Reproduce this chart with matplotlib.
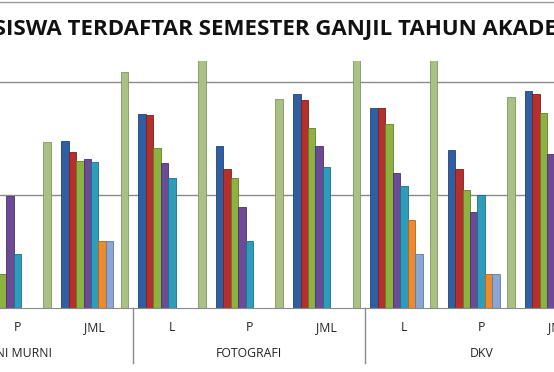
import numpy as np
import matplotlib
matplotlib.use("Agg")
import matplotlib.pyplot as plt
from matplotlib.transforms import blended_transform_factory
from matplotlib.lines import Line2D

# visible categories, left to right (SENI MURNI L is outside the crop)
groups = ["SENI MURNI", "FOTOGRAFI", "DKV"]
categories = ["P", "JML", "L", "P", "JML", "L", "P", "JML"]

# series values per category (gridlines every 20)
s_blue = [12.0, 29.5, 34.3, 28.6, 37.9, 35.3, 27.9, 38.3]
s_red = [10.0, 27.5, 34.1, 24.5, 36.8, 35.4, 24.5, 37.9]
s_green = [5.9, 25.9, 28.2, 22.9, 31.9, 32.5, 20.8, 34.5]
s_purple = [19.8, 26.4, 25.6, 17.9, 28.6, 23.9, 16.9, 27.2]
s_teal = [9.5, 25.8, 22.9, 11.9, 25.0, 21.5, 19.9, 24.0]
s_orange = [0.0, 11.9, 0.0, 0.0, 0.0, 15.5, 5.9, 12.0]
s_lblue = [0.0, 11.9, 0.0, 0.0, 0.0, 9.5, 5.9, 8.0]
s_lgreen = [29.3, 41.8, 52.0, 36.9, 60.0, 55.0, 37.3, 45.0]

title = "JUMLAH MAHASISWA TERDAFTAR SEMESTER GANJIL TAHUN AKADEMIK"

series = [
    (s_blue, "#2f5fa3", "#1f4378", 0),
    (s_red, "#b5302c", "#7e1e1b", 1),
    (s_green, "#8cb23f", "#62802a", 2),
    (s_purple, "#6b4a96", "#4a3169", 3),
    (s_teal, "#2e9dbb", "#1d6f85", 4),
    (s_orange, "#ec8a2c", "#b0641a", 5),
    (s_lblue, "#8aa6d3", "#5f7aa6", 6),
    (s_lgreen, "#a9c184", "#7f9760", 8),  # slot 7 stays empty
]

fig = plt.figure(figsize=(5.54, 3.72), dpi=100)
ax = fig.add_axes([0, 0.1728, 1, 0.6619])

x = np.arange(len(categories))
w = 0.0964
for vals, fc, ec, slot in series:
    ax.bar(x + (slot - 4) * w, vals, width=w, color=fc, edgecolor=ec,
           linewidth=0.6, zorder=3)

ax.set_xlim(2 - 172 / 77.3, 2 + (554 - 172) / 77.3)
ax.set_ylim(0, 43.6)
for g in [20, 40]:
    ax.axhline(g, color="#8a8a8a", lw=1, zorder=1)

for sp in ["top", "left", "right"]:
    ax.spines[sp].set_visible(False)
ax.spines["bottom"].set_color("#8a8a8a")
ax.spines["bottom"].set_zorder(4)
ax.set_xticks([])
ax.set_yticks([])

# category labels and group labels
lab_font = dict(family="Open Sans", fontsize=8.8, color="#222222")
for i, c in enumerate(categories):
    ax.annotate(c, (i, 0), xycoords=("data", "axes fraction"),
                xytext=(0, -20), textcoords="offset pixels",
                ha="center", va="center", annotation_clip=False, **lab_font)
for gi, g in enumerate(groups):
    ax.annotate(g, (gi * 3, 0), xycoords=("data", "axes fraction"),
                xytext=(0, -46), textcoords="offset pixels",
                ha="center", va="center", annotation_clip=False, **lab_font)

trans = blended_transform_factory(ax.transData, fig.transFigure)
for sx in [1.5, 4.5]:
    ax.plot([sx, sx], [0.1728, 0.024], transform=trans, color="#8a8a8a",
            lw=1, clip_on=False)

# title, fitted so "SISWA ... AKADE" spans the visible width
fig.canvas.draw()
r = fig.canvas.get_renderer()
tmp = fig.text(0, 0, "SISWA TERDAFTAR SEMESTER GANJIL TAHUN AKADE",
               family="Open Sans", weight="bold", fontsize=10)
wid = tmp.get_window_extent(r).width
tmp.remove()
fs = 10 * 562 / wid
tmp = fig.text(0, 0, "JUMLAH MAHA", family="Open Sans", weight="bold",
               fontsize=fs)
pre = tmp.get_window_extent(r).width
tmp.remove()
fig.text((-6 - pre) / 554, 1 - 29 / 372, title, family="Open Sans",
         weight="bold", fontsize=fs, ha="left", va="center", color="#111111")

fig.add_artist(Line2D([0, 1], [1 - 1.5 / 372, 1 - 1.5 / 372],
                      color="#9a9a9a", lw=1))

fig.savefig("out.png", dpi=100)
